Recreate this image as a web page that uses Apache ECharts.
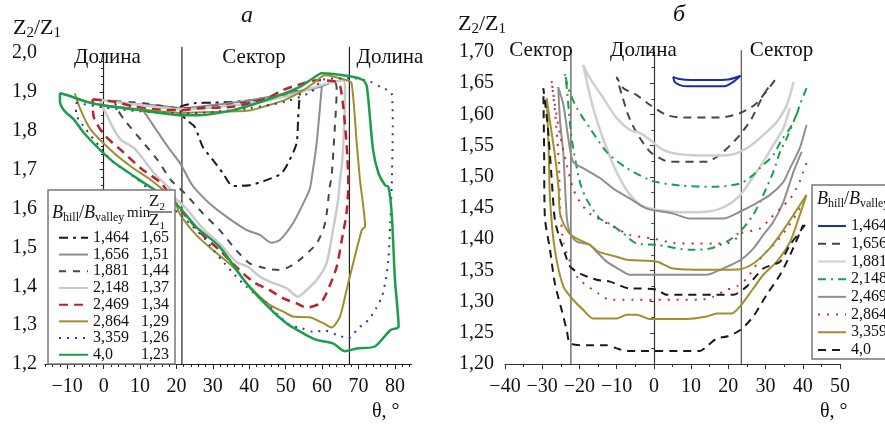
<!DOCTYPE html>
<html><head><meta charset="utf-8">
<script src="https://cdn.jsdelivr.net/npm/echarts@6/dist/echarts.min.js"></script>
<style>html,body{margin:0;padding:0;background:#fff}#c{width:885px;height:428px}</style>
</head><body><div id="c"></div>
<script>
// ---------- tick labels / categories ----------
const leftXTicks = [-10, 0, 10, 20, 30, 40, 50, 60, 70, 80];
const leftRatios = ['1,464', '1,656', '1,881', '2,148', '2,469', '2,864', '3,359', '4,0'];
const leftMins   = ['1,65', '1,51', '1,44', '1,37', '1,34', '1,29', '1,26', '1,23'];
const rightRatios = ['1,464', '1,656', '1,881', '2,148', '2,469', '2,864', '3,359', '4,0'];
const leftBounds = [21.5, 67.5];
const rightBounds = [-22.3, 23.5];

// ---------- left chart (a) curves: [theta, Z2/Z1] ----------
const L1464 = [[21,1.862],[25,1.871],[30,1.872],[35,1.874],[40,1.878],[45,1.886],[50,1.895],[54,1.905],[53.8,1.888],[53.4,1.828],[53,1.768],[51.1,1.725],[48.8,1.69],[44.7,1.673],[40.1,1.66],[35.5,1.658],[32.8,1.69],[30,1.725],[27.2,1.759],[25,1.81],[22.5,1.83],[21.3,1.845],[21,1.862]];
const L1656 = [[9,1.868],[15,1.865],[21.5,1.858],[30,1.866],[40,1.878],[50,1.895],[56,1.907],[59.9,1.913],[59.5,1.87],[58.5,1.768],[57.5,1.70],[56.6,1.65],[54.8,1.613],[52,1.562],[48.4,1.519],[46.1,1.512],[42.9,1.532],[39.2,1.545],[33.7,1.579],[29.1,1.613],[25.4,1.648],[24,1.665],[21,1.716],[17.6,1.759],[13.9,1.81],[11,1.85],[9,1.868]];
const L1881 = [[3,1.876],[10,1.872],[21.5,1.858],[30,1.862],[40,1.874],[50,1.89],[58,1.91],[63.5,1.924],[64,1.905],[63.5,1.81],[62.6,1.682],[62.1,1.656],[60.8,1.562],[58.5,1.51],[54.8,1.476],[52,1.455],[48.4,1.442],[45.6,1.444],[42.9,1.45],[40.1,1.459],[36.4,1.493],[31.8,1.545],[27.2,1.588],[22.5,1.637],[18.5,1.673],[14.8,1.725],[10.3,1.776],[5.7,1.828],[3.8,1.855],[3,1.876]];
const L2148 = [[-1,1.879],[5,1.872],[10,1.866],[21.5,1.855],[30,1.86],[40,1.87],[50,1.888],[55,1.903],[60,1.918],[65.8,1.93],[66.3,1.9],[66,1.8],[65.5,1.72],[64.9,1.673],[64.4,1.622],[63,1.545],[61.2,1.459],[58.5,1.416],[55.7,1.39],[53.4,1.373],[50.2,1.395],[45.6,1.412],[42.9,1.425],[39.6,1.45],[36.4,1.463],[31.8,1.51],[27.2,1.549],[22.7,1.6],[19.4,1.63],[18.5,1.648],[13.9,1.69],[8.4,1.755],[4.8,1.776],[2.9,1.802],[1.1,1.836],[-0.3,1.862],[-1,1.879]];
const L2469 = [[-3,1.881],[2.9,1.875],[8.4,1.862],[13.9,1.855],[21.3,1.853],[26.3,1.858],[35.5,1.862],[44.7,1.883],[49.3,1.905],[54.8,1.922],[58.5,1.93],[64,1.926],[65,1.913],[65.8,1.862],[66.7,1.768],[67.2,1.665],[66.7,1.588],[65.4,1.519],[64,1.45],[61.2,1.382],[59.4,1.356],[55.7,1.345],[53,1.356],[49.3,1.369],[45.6,1.39],[41,1.412],[36.4,1.45],[31.8,1.493],[27.2,1.532],[22.7,1.579],[19.9,1.613],[15.8,1.665],[10.3,1.703],[4.8,1.75],[0.2,1.789],[-2.6,1.832],[-3,1.866],[-3,1.881]];
const L2864 = [[-7.9,1.896],[-7.3,1.884],[0,1.866],[10,1.855],[21.5,1.846],[30,1.848],[40,1.852],[45,1.865],[50,1.88],[55,1.905],[58,1.925],[60.8,1.943],[66.7,1.93],[68.1,1.922],[69.5,1.768],[70.4,1.673],[71.8,1.553],[70.9,1.545],[66.7,1.39],[64.9,1.322],[62.6,1.294],[60.3,1.305],[56.6,1.32],[52,1.322],[49.3,1.335],[45.6,1.352],[40.1,1.399],[35.5,1.45],[30,1.493],[25.4,1.532],[20.8,1.588],[19.4,1.622],[13,1.673],[7.5,1.708],[2,1.75],[-3.5,1.802],[-6.3,1.853],[-7.9,1.896]];
const L3359 = [[-7.6,1.872],[0,1.86],[10,1.85],[21.5,1.845],[30,1.848],[40,1.858],[50,1.875],[57,1.9],[60.3,1.932],[68.6,1.935],[73.2,1.926],[76,1.913],[79.1,1.896],[79.4,1.81],[79.1,1.656],[78.7,1.562],[78.2,1.468],[77.3,1.408],[76.4,1.373],[74.8,1.343],[72.7,1.313],[69.9,1.292],[67.2,1.266],[64,1.275],[60.8,1.286],[57.5,1.283],[54.4,1.292],[51.1,1.30],[47.9,1.326],[45.2,1.352],[39.2,1.399],[36,1.429],[33.2,1.459],[30.5,1.489],[27.7,1.523],[24.5,1.553],[21.7,1.579],[12.1,1.652],[8.9,1.678],[5.7,1.699],[2,1.725],[-5.8,1.815],[-7.6,1.845],[-7.6,1.872]];
const L40   = [[-12,1.897],[-9.5,1.89],[-5,1.875],[0,1.865],[10,1.853],[21.5,1.84],[26.3,1.84],[35.5,1.853],[44.7,1.879],[53.9,1.913],[57.5,1.935],[59.9,1.948],[67.6,1.94],[71.3,1.93],[72.3,1.913],[74,1.75],[75.5,1.69],[77.3,1.66],[78.2,1.656],[79.1,1.588],[80,1.416],[81,1.296],[78.7,1.287],[74.5,1.245],[69.5,1.24],[66.3,1.233],[63,1.253],[58.5,1.262],[54.8,1.279],[50.2,1.305],[45.6,1.343],[39.2,1.408],[31.8,1.502],[25.4,1.553],[19.9,1.612],[11.2,1.665],[2,1.725],[-5.3,1.793],[-8.1,1.828],[-10.9,1.853],[-12,1.876],[-12,1.897]];

// ---------- right chart (б) curves ----------
const R1464 = [[23.3,1.662],[20,1.656],[15,1.655],[10,1.655],[6.5,1.657],[5.2,1.66],[5.6,1.652],[7,1.647],[9,1.645],[15,1.645],[19,1.645],[21.3,1.652],[23.3,1.662]];
const R1656 = [[32.5,1.655],[30,1.635],[27,1.615],[23.1,1.602],[17.8,1.595],[7.9,1.595],[3.4,1.599],[-1,1.615],[-4.6,1.631],[-8.2,1.642],[-10,1.66],[-8.6,1.631],[-6.9,1.599],[-4.6,1.57],[-1,1.54],[2.5,1.527],[4.3,1.524],[14.2,1.524],[18.6,1.54],[23.1,1.567],[26.3,1.594],[29.4,1.631],[31,1.645]];
const R1881 = [[37.5,1.652],[35.7,1.615],[33,1.588],[30.3,1.572],[26.7,1.553],[23.1,1.54],[20.4,1.535],[14.2,1.534],[7,1.536],[2.5,1.543],[-1,1.559],[-3.7,1.57],[-6.4,1.575],[-10,1.594],[-13.6,1.626],[-17.2,1.658],[-19,1.679],[-18,1.652],[-16.3,1.61],[-14,1.567],[-10.9,1.519],[-8.2,1.487],[-6.4,1.471],[-3.7,1.455],[0.8,1.447],[8,1.443],[14.2,1.444],[19,1.452],[23.1,1.47],[26.7,1.5],[29.4,1.524],[32.1,1.551],[34.8,1.578],[36.5,1.61]];
const R2148 = [[41,1.642],[39.2,1.615],[38.3,1.599],[36.6,1.578],[34.3,1.559],[32.1,1.535],[28.5,1.514],[26.7,1.503],[23.1,1.489],[16,1.484],[7,1.486],[-0.2,1.493],[-7.3,1.514],[-12.7,1.54],[-17.2,1.578],[-20.7,1.61],[-23,1.642],[-23.9,1.666],[-23.4,1.642],[-22.1,1.562],[-19.9,1.492],[-18,1.463],[-14.5,1.433],[-11.3,1.423],[-8.2,1.409],[-4.6,1.393],[0.8,1.391],[9.7,1.383],[15.1,1.385],[19.6,1.396],[23.1,1.412],[26.7,1.439],[29.4,1.471],[32.1,1.508],[33.9,1.54],[35.7,1.562],[38.3,1.6]];
const R2469 = [[41,1.583],[39.2,1.546],[36.6,1.514],[34.8,1.492],[31.2,1.471],[26.7,1.455],[23.1,1.444],[18.6,1.433],[9.7,1.433],[5.2,1.441],[-1.9,1.449],[-6.4,1.465],[-10.9,1.481],[-14.5,1.498],[-19,1.514],[-21.7,1.524],[-23,1.562],[-24.3,1.615],[-25.7,1.644],[-25.2,1.588],[-24.3,1.535],[-23.4,1.436],[-22.5,1.409],[-20.7,1.396],[-17.2,1.391],[-15.4,1.38],[-12.7,1.364],[-9.1,1.351],[-6.4,1.343],[14.2,1.343],[17.8,1.351],[23.1,1.366],[26.7,1.385],[29.4,1.407],[32.1,1.428],[34.8,1.46],[37.5,1.508],[39.7,1.54]];
const R2864 = [[41,1.522],[40.1,1.508],[38.8,1.487],[36.6,1.465],[33.9,1.449],[31.2,1.433],[28.5,1.417],[23.1,1.409],[21.3,1.396],[16.9,1.393],[11.5,1.393],[5.2,1.394],[-0.2,1.401],[-6.4,1.407],[-11.8,1.423],[-17.2,1.441],[-19.9,1.46],[-21.7,1.481],[-23.4,1.519],[-25.2,1.567],[-26.6,1.615],[-27.5,1.655],[-26.5,1.6],[-25.5,1.52],[-25.2,1.452],[-24.3,1.393],[-23.4,1.377],[-20.3,1.337],[-14.9,1.313],[-11.8,1.303],[12.4,1.303],[16,1.308],[19.6,1.319],[22.2,1.324],[24.9,1.337],[29.4,1.375],[33,1.396],[35.7,1.417],[39.2,1.449],[41,1.47]];
const R3359 = [[41,1.471],[37.5,1.439],[33.9,1.407],[30.3,1.38],[26.7,1.361],[23.1,1.352],[14.2,1.351],[5.2,1.353],[0.8,1.364],[-7.3,1.367],[-10,1.372],[-14.9,1.38],[-17.2,1.391],[-21.7,1.404],[-23.4,1.415],[-25.2,1.441],[-25.6,1.481],[-26.6,1.535],[-27.9,1.588],[-28.8,1.626],[-28.3,1.55],[-27.9,1.463],[-26.6,1.383],[-24.3,1.324],[-21.7,1.303],[-19,1.287],[-16.3,1.273],[-10,1.273],[-7.3,1.279],[-4.6,1.279],[-1,1.272],[8.8,1.272],[14.2,1.276],[16.9,1.281],[20.9,1.281],[23.1,1.292],[26.7,1.321],[29.4,1.343],[33,1.364],[36.6,1.396],[39.2,1.439],[41,1.471]];
const R40   = [[40.6,1.423],[36.6,1.391],[33.9,1.364],[29.4,1.353],[24.9,1.324],[21.3,1.311],[3.4,1.311],[0.8,1.319],[-3.7,1.321],[-6.4,1.321],[-11.8,1.332],[-15.4,1.335],[-19.9,1.345],[-22.5,1.356],[-23.9,1.377],[-25.2,1.399],[-26.6,1.431],[-27.5,1.5],[-28.5,1.58],[-29.7,1.642],[-29.5,1.55],[-29.3,1.436],[-27.9,1.383],[-26.6,1.329],[-24.8,1.287],[-23.4,1.254],[-22.5,1.233],[-18,1.23],[-12.7,1.23],[-10,1.225],[-7.3,1.221],[12.4,1.221],[14.2,1.228],[16.9,1.241],[19.6,1.244],[23.1,1.254],[26.7,1.276],[30.3,1.311],[33.9,1.343],[37,1.38],[40.1,1.423]];

// ---------- styles ----------
const FONT = 'Liberation Serif';
const leftDefs = [
  {d: L1464, c: '#1a1a1a', t: [9,5,3,5], w: 2},
  {d: L1656, c: '#8e8e8e', t: 'solid', w: 2},
  {d: L1881, c: '#3f4a48', t: [7,7], w: 2},
  {d: L2148, c: '#cacaca', t: 'solid', w: 2.5},
  {d: L2469, c: '#b8232e', t: [9,6], w: 2.5},
  {d: L2864, c: '#9e8e2e', t: 'solid', w: 2},
  {d: L3359, c: '#2b3a9c', t: [2,6], w: 2},
  {d: L40,   c: '#1a9e4a', t: 'solid', w: 2.5}
];
const rightDefs = [
  {d: R1464, c: '#1f2d9a', t: 'solid', w: 2},
  {d: R1656, c: '#414a48', t: [8,6], w: 2},
  {d: R1881, c: '#cfcfcf', t: 'solid', w: 2.5},
  {d: R2148, c: '#1a9e4a', t: [8,5,2,5], w: 2},
  {d: R2469, c: '#8f8f8f', t: 'solid', w: 2},
  {d: R2864, c: '#c0303a', t: [2,7], w: 2},
  {d: R3359, c: '#a0902e', t: 'solid', w: 2},
  {d: R40,   c: '#1a1a1a', t: [8,6], w: 2}
];

const series = [];
leftDefs.forEach((s, i) => series.push({
  type: 'line', name: 'L' + leftRatios[i], data: s.d, xAxisIndex: 0, yAxisIndex: 0,
  symbol: 'none', showSymbol: false, smooth: 0.25, animation: false,
  lineStyle: {color: s.c, width: s.w, type: s.t, cap: 'butt'}, itemStyle: {color: s.c}, z: 2
}));
rightDefs.forEach((s, i) => series.push({
  type: 'line', name: 'R' + rightRatios[i], data: s.d, xAxisIndex: 2, yAxisIndex: 1,
  symbol: 'none', showSymbol: false, smooth: 0.25, animation: false,
  lineStyle: {color: s.c, width: s.w, type: s.t, cap: 'butt'}, itemStyle: {color: s.c}, z: 2
}));
leftBounds.forEach(b => series.push({
  type: 'line', data: [[b, 1.2], [b, 2.016]], xAxisIndex: 0, yAxisIndex: 0, clip: false,
  symbol: 'none', silent: true, animation: false, lineStyle: {color: '#222', width: 1.2}, z: 1
}));
rightBounds.forEach(b => series.push({
  type: 'line', data: [[b, 1.2], [b, 1.703]], xAxisIndex: 2, yAxisIndex: 1, clip: false,
  symbol: 'none', silent: true, animation: false, lineStyle: {color: '#666', width: 1.4}, z: 1
}));

const minorLeft = [];
for (let v = -16; v <= 84; v += 2) minorLeft.push(v);

const xFmt = v => String(v).replace('-', '\u2212');
const lblX = {fontFamily: FONT, fontSize: 20, color: '#111', margin: 13};

const subRich = (main, sub) => ({
  m: {fontFamily: FONT, fontSize: main, lineHeight: main + 4, color: '#111'},
  mi: {fontFamily: FONT, fontSize: main, fontStyle: 'italic', lineHeight: main + 4, color: '#111'},
  s: {fontFamily: FONT, fontSize: sub, lineHeight: sub - 2, verticalAlign: 'bottom', color: '#111'}
});
const T = (x, y, text, opt) => ({type: 'text', z: 10, silent: true,
  style: Object.assign({x, y, text, fontFamily: FONT, fontSize: 20, fill: '#111', align: 'center', verticalAlign: 'middle'}, opt || {})});

const legendCommon = {orient: 'vertical', padding: 0, itemGap: 0, itemHeight: 10, selectedMode: false, z: 12,
  itemStyle: {opacity: 0, borderWidth: 0}};

const option = {
  animation: false,
  backgroundColor: '#fff',
  grid: [
    {left: 45, top: 53, width: 366.7, height: 311, outerBoundsMode: 'none', containLabel: false},
    {left: 505, top: 52, width: 335, height: 312, outerBoundsMode: 'none', containLabel: false}
  ],
  xAxis: [
    {gridIndex: 0, type: 'value', min: -16.1, max: 84.6, position: 'bottom',
     axisLine: {lineStyle: {color: '#222', width: 1.2}},
     axisTick: {show: true, customValues: leftXTicks, length: 5, lineStyle: {color: '#222'}},
     axisLabel: Object.assign({customValues: leftXTicks, formatter: xFmt}, lblX),
     splitLine: {show: false}},
    {gridIndex: 0, type: 'value', min: -16.1, max: 84.6, position: 'bottom', offset: 0,
     axisLine: {show: false},
     axisTick: {show: true, customValues: minorLeft, length: 3, lineStyle: {color: '#222'}},
     axisLabel: {show: false}, splitLine: {show: false}},
    {gridIndex: 1, type: 'value', min: -40, max: 50, interval: 10,
     axisLine: {lineStyle: {color: '#333', width: 1.2}},
     axisTick: {show: true, length: 5, lineStyle: {color: '#333'}},
     minorTick: {show: true, splitNumber: 2, length: 3, lineStyle: {color: '#333'}},
     axisLabel: Object.assign({formatter: xFmt}, lblX),
     splitLine: {show: false}, minorSplitLine: {show: false}}
  ],
  yAxis: [
    {gridIndex: 0, type: 'value', min: 1.2, max: 2.0, interval: 0.1,
     axisLine: {show: true, lineStyle: {color: '#222', width: 1.2}},
     axisTick: {show: true, length: 4, lineStyle: {color: '#222'}},
     minorTick: {show: true, splitNumber: 5, length: 2.5, lineStyle: {color: '#222'}},
     axisLabel: {fontFamily: FONT, fontSize: 20, color: '#111', margin: 8,
       formatter: v => v.toFixed(1).replace('.', ',')},
     splitLine: {show: false}, minorSplitLine: {show: false}},
    {gridIndex: 1, type: 'value', min: 1.2, max: 1.7, interval: 0.05,
     axisLine: {show: true, lineStyle: {color: '#333', width: 1.2}},
     axisTick: {show: true, length: 4, lineStyle: {color: '#333'}},
     minorTick: {show: true, splitNumber: 2, length: 2.5, lineStyle: {color: '#333'}},
     axisLabel: {fontFamily: FONT, fontSize: 20, color: '#111', margin: 11,
       formatter: v => v.toFixed(2).replace('.', ',')},
     splitLine: {show: false}, minorSplitLine: {show: false}}
  ],
  legend: [
    Object.assign({}, legendCommon, {left: 58, top: 229.5, itemWidth: 29,
     data: leftRatios.map(r => 'L' + r),
     formatter: n => { const i = leftRatios.indexOf(n.slice(1)); return '{a|' + leftRatios[i] + '}{b|' + leftMins[i] + '}'; },
     textStyle: {fontFamily: FONT, fontSize: 16, color: '#111', lineHeight: 16.7,
       rich: {a: {fontFamily: FONT, fontSize: 16, width: 48, lineHeight: 16.7, color: '#111'},
              b: {fontFamily: FONT, fontSize: 16, lineHeight: 16.7, color: '#111'}}}}),
    Object.assign({}, legendCommon, {left: 817, top: 217.2, itemWidth: 28,
     data: rightRatios.map(r => 'R' + r),
     formatter: n => n.slice(1),
     textStyle: {fontFamily: FONT, fontSize: 16, color: '#111', lineHeight: 17.7}})
  ],
  graphic: [
    {type: 'rect', z: 3, silent: true, shape: {x: 48, y: 190, width: 127, height: 174},
     style: {fill: '#fff', stroke: '#777', lineWidth: 1.5}},
    {type: 'rect', z: 3, silent: true, shape: {x: 812, y: 185, width: 90, height: 174},
     style: {fill: '#fff', stroke: '#777', lineWidth: 1.5}},
    // titles
    T(247, 16, 'а', {fontSize: 24, fontStyle: 'italic'}),
    T(679, 15, 'б', {fontSize: 24, fontStyle: 'italic'}),
    // axis names
    T(13, 28, '{m|Z}{s|2}{m|/Z}{s|1}', {align: 'left', rich: subRich(22, 15)}),
    T(458, 24, '{m|Z}{s|2}{m|/Z}{s|1}', {align: 'left', rich: subRich(22, 15)}),
    T(372, 412, 'θ, °', {align: 'left', fontSize: 20}),
    T(820, 412, 'θ, °', {align: 'left', fontSize: 20}),
    // region labels
    T(107.5, 57, 'Долина', {fontSize: 21}), T(254, 57, 'Сектор', {fontSize: 21}), T(390, 57, 'Долина', {fontSize: 21}),
    T(541, 50, 'Сектор', {fontSize: 21}), T(643.5, 50, 'Долина', {fontSize: 21}), T(781.5, 50, 'Сектор', {fontSize: 21}),
    // legend headers
    T(52, 213, '{mi|B}{s|hill}{m|/}{mi|B}{s|valley}', {align: 'left', rich: subRich(18, 12)}),
    T(127, 213, 'min', {align: 'left', fontSize: 15}),
    T(149, 202, '{m|Z}{s|2}', {align: 'left', rich: subRich(17, 11)}),
    {type: 'line', z: 10, silent: true, shape: {x1: 148, y1: 212, x2: 172, y2: 212}, style: {stroke: '#111', lineWidth: 1}},
    T(149, 221, '{m|Z}{s|1}', {align: 'left', rich: subRich(17, 11)}),
    T(817, 199, '{mi|B}{s|hill}{m|/}{mi|B}{s|valley}', {align: 'left', rich: subRich(18, 12)})
  ],
  series
};

const chart = echarts.init(document.getElementById('c'), null, {renderer: 'canvas'});
chart.setOption(option);
</script></body></html>
